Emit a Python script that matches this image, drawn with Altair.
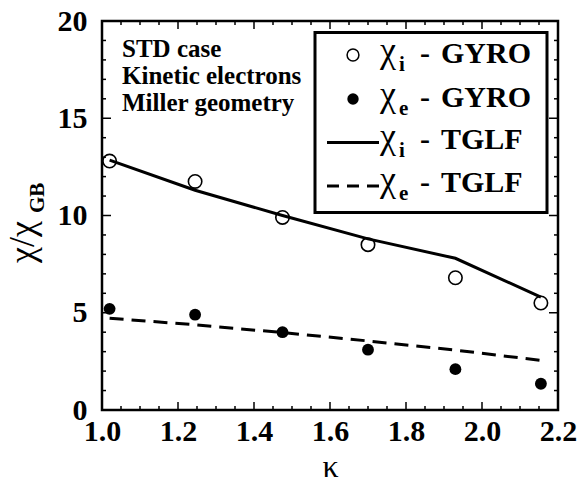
import altair as alt
import pandas as pd

# Elongation scan: kappa values and normalised diffusivities
kappa = [1.02, 1.245, 1.475, 1.70, 1.93, 2.155]
chi_i_gyro = [12.8, 11.75, 9.9, 8.5, 6.8, 5.5]
chi_e_gyro = [5.2, 4.9, 4.0, 3.1, 2.1, 1.35]
chi_i_tglf = [12.85, 11.3, 10.0, 8.8, 7.8, 5.8]
chi_e_tglf = [4.72, 4.38, 3.98, 3.55, 3.08, 2.55]

x_ticks = [1.0, 1.2, 1.4, 1.6, 1.8, 2.0, 2.2]
x_minor = [round(1.0 + 0.05 * k, 2) for k in range(25) if k % 4]
y_ticks = [0, 5, 10, 15, 20]
y_minor = [v for v in range(21) if v % 5]

notes = ["STD case", "Kinetic electrons", "Miller geometry"]
legend_sub = ["i", "e", "i", "e"]
legend_code = ["GYRO", "GYRO", "TGLF", "TGLF"]

SERIF = "Liberation Serif"
W, H = 456, 389

df = pd.DataFrame({
    "kappa": kappa,
    "chi_i_gyro": chi_i_gyro,
    "chi_e_gyro": chi_e_gyro,
    "chi_i_tglf": chi_i_tglf,
    "chi_e_tglf": chi_e_tglf,
})

xs = alt.Scale(domain=[1.0, 2.2], nice=False, zero=False)
ys = alt.Scale(domain=[0, 20], nice=False)

xaxis = alt.Axis(values=x_ticks, format=".1f", ticks=False, domain=False, grid=False,
                 labelFont=SERIF, labelFontSize=30, labelFontWeight="bold",
                 labelColor="black", labelPadding=6, labelFlush=False,
                 titleFont=SERIF, titleFontSize=32, titleFontWeight="normal",
                 titleColor="black", titlePadding=5)
yaxis = alt.Axis(values=y_ticks, format="d", ticks=False, domain=False, grid=False,
                 labelFont=SERIF, labelFontSize=30, labelFontWeight="bold",
                 labelColor="black", labelPadding=15, labelFlush=False, title=None)


def X(field):
    return alt.X(field, type="quantitative", scale=xs, axis=xaxis, title="κ")


def Y(field):
    return alt.Y(field, type="quantitative", scale=ys, axis=yaxis, title=None)


base = alt.Chart(df)

gyro_i = base.mark_point(shape="circle", filled=False, color="black", size=180,
                         strokeWidth=1.6, opacity=1).encode(x=X("kappa"), y=Y("chi_i_gyro"))
gyro_e = base.mark_point(shape="circle", filled=True, color="black", size=140,
                         opacity=1).encode(x=X("kappa"), y=Y("chi_e_gyro"))
tglf_i = base.mark_line(color="black", strokeWidth=3).encode(x=X("kappa"), y=Y("chi_i_tglf"))
tglf_e = base.mark_line(color="black", strokeWidth=3, strokeDash=[14, 8]).encode(
    x=X("kappa"), y=Y("chi_e_tglf"))


# inward ticks on all four sides
def xtick_rules(values, length):
    d = alt.Chart(pd.DataFrame({"v": values}))
    bottom = d.mark_rule(color="black", strokeWidth=1.5).encode(
        x=X("v"), y=alt.value(H), y2=alt.value(H - length))
    top = d.mark_rule(color="black", strokeWidth=1.5).encode(
        x=X("v"), y=alt.value(0), y2=alt.value(length))
    return [bottom, top]


def ytick_rules(values, length):
    d = alt.Chart(pd.DataFrame({"v": values}))
    left = d.mark_rule(color="black", strokeWidth=1.5).encode(
        y=Y("v"), x=alt.value(0), x2=alt.value(length))
    right = d.mark_rule(color="black", strokeWidth=1.5).encode(
        y=Y("v"), x=alt.value(W), x2=alt.value(W - length))
    return [left, right]


ticks = (xtick_rules(x_ticks, 8) + xtick_rules(x_minor, 4)
         + ytick_rules(y_ticks, 9) + ytick_rules(y_minor, 4))


def label(txt, x, y, size, weight="bold", angle=0, align="left"):
    return alt.Chart(pd.DataFrame({"t": [txt]})).mark_text(
        align=align, baseline="alphabetic", font=SERIF, fontSize=size,
        fontWeight=weight, angle=angle, color="black").encode(
        x=alt.value(x), y=alt.value(y), text="t:N")


note_layers = [label(t, 20, 36 + 27 * k, 25) for k, t in enumerate(notes)]

# y-axis title χ/χ_GB, drawn rotated
ytitle = [
    label("χ/χ", -68, 242, 36, weight="normal", angle=270),
    label("GB", -58, 192, 21, angle=270),
]

# legend box and entries
one = pd.DataFrame({"a": [0]})
box = alt.Chart(one).mark_rect(fill="white", stroke="black", strokeWidth=3).encode(
    x=alt.value(213), x2=alt.value(445), y=alt.value(11.5), y2=alt.value(191.5))

rows_y = [42, 85.5, 127.5, 170.5]
legend_layers = [box]
legend_layers.append(alt.Chart(one).mark_point(shape="circle", filled=False, color="black",
                                                size=140, strokeWidth=1.5, opacity=1).encode(
    x=alt.value(251), y=alt.value(34)))
legend_layers.append(alt.Chart(one).mark_point(shape="circle", filled=True, color="black",
                                                size=130, opacity=1).encode(
    x=alt.value(251), y=alt.value(78)))
legend_layers.append(alt.Chart(one).mark_rule(color="black", strokeWidth=3).encode(
    x=alt.value(225), x2=alt.value(277), y=alt.value(121.5)))
legend_layers.append(alt.Chart(one).mark_rule(color="black", strokeWidth=3,
                                               strokeDash=[12, 8]).encode(
    x=alt.value(225), x2=alt.value(277), y=alt.value(165)))
for k in range(4):
    yb = rows_y[k]
    legend_layers.append(label("χ", 278, yb - 1, 36, weight="normal"))
    legend_layers.append(label(legend_sub[k], 297, yb + 8, 21))
    legend_layers.append(label("-", 318, yb, 30))
    legend_layers.append(label(legend_code[k], 339, yb, 30))

chart = alt.layer(
    *ticks, tglf_e, tglf_i, gyro_e, gyro_i, *note_layers, *ytitle, *legend_layers
).properties(
    width=W, height=H,
    padding={"left": 102, "top": 21, "right": 20, "bottom": 75},
    autosize=alt.AutoSizeParams(type="none"),
    background="white",
).configure_view(stroke="black", strokeWidth=2.5)

chart.save("out.html", embed_options={"renderer": "svg", "actions": False})
